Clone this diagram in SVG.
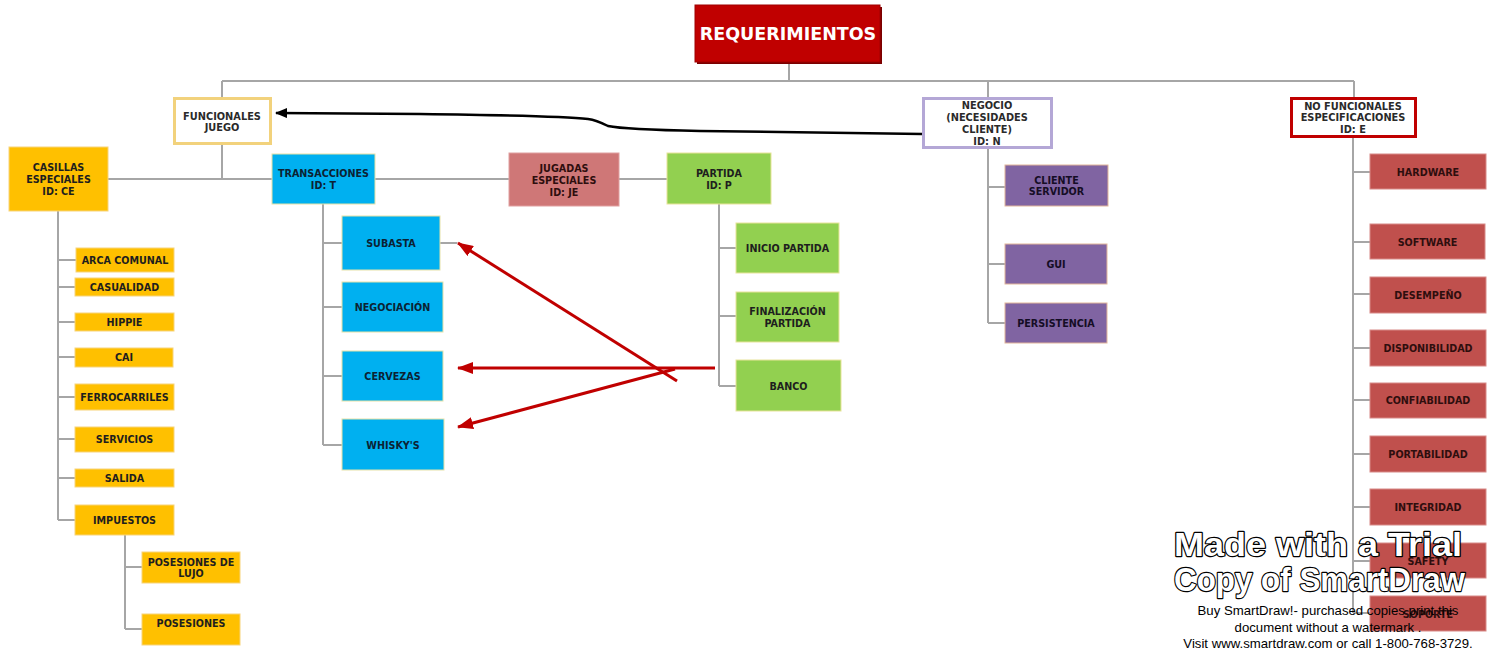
<svg xmlns="http://www.w3.org/2000/svg" width="1490" height="666" viewBox="0 0 1490 666">
<style>
.c{fill:none;stroke:#a6a6a6;stroke-width:2}
.t{font-family:"DejaVu Sans",Verdana,sans-serif;font-size:9.6px;font-weight:bold;text-anchor:middle;fill:#1e1e1e}
.tw{font-family:"DejaVu Sans",Verdana,sans-serif;font-size:9.8px;font-weight:bold;text-anchor:middle;fill:#2a2a2a}
.y{fill:#ffc000;stroke:#f7d47a;stroke-width:1}
.b{fill:#00b0f0;stroke:#e6e2a8;stroke-width:1}
.g{fill:#92d050;stroke:#e8e49a;stroke-width:1}
.p{fill:#8064a2;stroke:#e2b59a;stroke-width:1}
.r{fill:#c0504d;stroke:#d88a88;stroke-width:1}
.tr{fill:#2e0e0e}
.tp{fill:#150d25}
.tb{fill:#0c2233}
.wm{font-family:"Liberation Sans",Arial,sans-serif;font-weight:bold;font-size:34px;fill:#fff;stroke:#000;stroke-width:2.4;paint-order:stroke;stroke-linejoin:round}
.ws{font-family:"Liberation Sans",Arial,sans-serif;font-size:13.2px;fill:#000;text-anchor:middle}
</style>
<defs>
<marker id="ar" markerUnits="userSpaceOnUse" viewBox="0 0 16 12" refX="15" refY="6" markerWidth="16" markerHeight="12" orient="auto"><path d="M0,0 L16,6 L0,12 Z" fill="#c00000"/></marker>
<marker id="ab" markerUnits="userSpaceOnUse" viewBox="0 0 12 10" refX="11" refY="5" markerWidth="12" markerHeight="10" orient="auto"><path d="M0,0 L12,5 L0,10 Z" fill="#000"/></marker>
</defs>
<rect width="1490" height="666" fill="#fff"/>
<g id="connectors">
<path class="c" d="M789,63 V81 M222,81 H1354 M222,81 V97 M988,81 V97 M1354,81 V97"/>
<path class="c" d="M222,145 V179 M108,179 H272 M375,179 H509 M619,179 H667"/>
<path class="c" d="M58,211 V520 M58,260 H76 M58,287 H75 M58,322 H75 M58,357 H75 M58,397 H75 M58,439 H75 M58,478 H75 M58,520 H75"/>
<path class="c" d="M125,535 V629 M125,567 H142 M125,629 H142"/>
<path class="c" d="M323,204 V445 M323,243 H342 M323,307 H342 M323,376 H342 M323,445 H342 M440,243 H457"/>
<path class="c" d="M719,204 V386 M719,248 H736 M719,316 H736 M719,386 H736"/>
<path class="c" d="M988,149 V323 M988,187 H1005 M988,264 H1005 M988,323 H1005"/>
<path class="c" d="M1353,138 V613 M1353,172 H1370 M1353,242 H1370 M1353,294 H1370 M1353,348 H1370 M1353,400 H1370 M1353,454 H1370 M1353,507 H1370 M1353,561 H1370 M1353,613 H1370"/>
<path d="M922,134 L700,131 C650,130 622,129 608,126 C600,122 596,120 588,119 C560,116 500,115 420,114 L276,113" fill="none" stroke="#000" stroke-width="2.5" marker-end="url(#ab)"/>
<g fill="none" stroke="#c00000" stroke-width="3">
<path d="M677,381 L458,243" marker-end="url(#ar)"/>
<path d="M715,368 L458,368" marker-end="url(#ar)"/>
<path d="M675,369 L458,427" marker-end="url(#ar)"/>
</g>
</g>
<g id="requerimientos">
<rect x="697" y="7" width="185" height="57" fill="#7a0000"/>
<rect x="695" y="5" width="185" height="57" fill="#c00000" stroke="#a00000" stroke-width="1"/>
<text x="788" y="40" font-family="DejaVu Sans,Verdana,sans-serif" font-size="17.5" font-weight="bold" fill="#fff" text-anchor="middle">REQUERIMIENTOS</text>
</g>
<g id="funcionales">
<rect x="174.5" y="98.5" width="96" height="45" fill="#fff" stroke="#f2d27c" stroke-width="3"/>
<text class="tw" x="222" y="119.5">FUNCIONALES</text>
<text class="tw" x="222" y="131">JUEGO</text>
</g>
<g id="negocio">
<rect x="923.5" y="98.5" width="128" height="49" fill="#fff" stroke="#b4a7d6" stroke-width="3"/>
<text class="tw" x="987" y="109">NEGOCIO</text>
<text class="tw" x="987" y="121">(NECESIDADES</text>
<text class="tw" x="987" y="133">CLIENTE)</text>
<text class="tw" x="987" y="145">ID: N</text>
</g>
<g id="nofuncionales">
<rect x="1291.5" y="98.5" width="124" height="38" fill="#fff" stroke="#c00000" stroke-width="3"/>
<text class="tw" x="1353" y="109.5" fill="#111">NO FUNCIONALES</text>
<text class="tw" x="1353" y="121">ESPECIFICACIONES</text>
<text class="tw" x="1353" y="132.5">ID: E</text>
</g>
<g id="casillas">
<rect class="y" x="9" y="147" width="99" height="64"/>
<text class="t" x="58.5" y="170.5">CASILLAS</text>
<text class="t" x="58.5" y="182.5">ESPECIALES</text>
<text class="t" x="58.5" y="194.5">ID: CE</text>
</g>
<g id="arca"><rect class="y" x="76" y="248" width="98" height="24"/><text class="t" x="125" y="263.5">ARCA COMUNAL</text></g>
<g id="casualidad"><rect class="y" x="75" y="278" width="99" height="18"/><text class="t" x="124.5" y="290.5">CASUALIDAD</text></g>
<g id="hippie"><rect class="y" x="75" y="313" width="99" height="18"/><text class="t" x="124.5" y="325.5">HIPPIE</text></g>
<g id="cai"><rect class="y" x="75" y="348" width="98" height="19"/><text class="t" x="124" y="361">CAI</text></g>
<g id="ferrocarriles"><rect class="y" x="75" y="384" width="99" height="26"/><text class="t" x="124.5" y="400.5">FERROCARRILES</text></g>
<g id="servicios"><rect class="y" x="75" y="427" width="99" height="25"/><text class="t" x="124.5" y="443">SERVICIOS</text></g>
<g id="salida"><rect class="y" x="75" y="469" width="99" height="18"/><text class="t" x="124.5" y="481.5">SALIDA</text></g>
<g id="impuestos"><rect class="y" x="75" y="505" width="99" height="30"/><text class="t" x="124.5" y="523.5">IMPUESTOS</text></g>
<g id="posesioneslujo"><rect class="y" x="142" y="552" width="98" height="31"/><text class="t" x="191" y="565.5">POSESIONES DE</text><text class="t" x="191" y="577">LUJO</text></g>
<g id="posesiones"><rect class="y" x="142" y="614" width="98" height="31"/><text class="t" x="191" y="627">POSESIONES</text></g>
<g id="transacciones">
<rect class="b" x="272" y="154" width="103" height="50"/>
<text class="t tb" x="323.5" y="176.5">TRANSACCIONES</text>
<text class="t tb" x="323.5" y="188.5">ID: T</text>
</g>
<g id="subasta"><rect class="b" x="342" y="216" width="98" height="54"/><text class="t tb" x="391" y="246.5">SUBASTA</text></g>
<g id="negociacion"><rect class="b" x="342" y="282" width="101" height="50"/><text class="t tb" x="392.5" y="310.5">NEGOCIACIÓN</text></g>
<g id="cervezas"><rect class="b" x="342" y="351" width="101" height="50"/><text class="t tb" x="392.5" y="379.5">CERVEZAS</text></g>
<g id="whiskys"><rect class="b" x="342" y="419" width="102" height="51"/><text class="t tb" x="393" y="448.5">WHISKY'S</text></g>
<g id="jugadas">
<rect x="509" y="153" width="110" height="53" fill="#cf7777" stroke="#e0a0a0" stroke-width="1"/>
<text class="t tr" x="564" y="171.5">JUGADAS</text>
<text class="t tr" x="564" y="183.5">ESPECIALES</text>
<text class="t tr" x="564" y="195.5">ID: JE</text>
</g>
<g id="partida">
<rect class="g" x="667" y="153" width="104" height="51"/>
<text class="t" x="719" y="176.5">PARTIDA</text>
<text class="t" x="719" y="188.5">ID: P</text>
</g>
<g id="inicio"><rect class="g" x="736" y="223" width="103" height="50"/><text class="t" x="787.5" y="251.5">INICIO PARTIDA</text></g>
<g id="finalizacion"><rect class="g" x="736" y="292" width="103" height="50"/><text class="t" x="787.5" y="314.5">FINALIZACIÓN</text><text class="t" x="787.5" y="326.5">PARTIDA</text></g>
<g id="banco"><rect class="g" x="736" y="360" width="105" height="51"/><text class="t" x="788.5" y="389.5">BANCO</text></g>
<g id="cliente"><rect class="p" x="1005" y="165" width="103" height="41"/><text class="t tp" x="1056.5" y="183.5">CLIENTE</text><text class="t tp" x="1056.5" y="195">SERVIDOR</text></g>
<g id="gui"><rect class="p" x="1005" y="244" width="102" height="40"/><text class="t tp" x="1056" y="267.5">GUI</text></g>
<g id="persistencia"><rect class="p" x="1005" y="303" width="102" height="40"/><text class="t tp" x="1056" y="326.5">PERSISTENCIA</text></g>
<g id="hardware"><rect class="r" x="1370" y="154" width="116" height="35"/><text class="t tr" x="1428" y="175.5">HARDWARE</text></g>
<g id="software"><rect class="r" x="1370" y="224" width="115" height="35"/><text class="t tr" x="1427.5" y="245.5">SOFTWARE</text></g>
<g id="desempeno"><rect class="r" x="1370" y="277" width="116" height="36"/><text class="t tr" x="1428" y="298.5">DESEMPEÑO</text></g>
<g id="disponibilidad"><rect class="r" x="1370" y="330" width="116" height="36"/><text class="t tr" x="1428" y="351.5">DISPONIBILIDAD</text></g>
<g id="confiabilidad"><rect class="r" x="1370" y="383" width="116" height="35"/><text class="t tr" x="1428" y="403.5">CONFIABILIDAD</text></g>
<g id="portabilidad"><rect class="r" x="1370" y="436" width="116" height="36"/><text class="t tr" x="1428" y="457.5">PORTABILIDAD</text></g>
<g id="integridad"><rect class="r" x="1370" y="489" width="116" height="36"/><text class="t tr" x="1428" y="510.5">INTEGRIDAD</text></g>
<g id="safety"><rect class="r" x="1370" y="543" width="116" height="35"/><text class="t tr" x="1428" y="564.5">SAFETY</text></g>
<g id="soporte"><rect class="r" x="1370" y="596" width="116" height="35"/><text class="t tr" x="1428" y="617.5">SOPORTE</text></g>
<g id="watermark">
<text class="wm" x="1174" y="556" textLength="288" lengthAdjust="spacingAndGlyphs">Made with a Trial</text>
<text class="wm" x="1174" y="591" textLength="291" lengthAdjust="spacingAndGlyphs">Copy of SmartDraw</text>
<text class="ws" x="1328" y="615">Buy SmartDraw!- purchased copies print this</text>
<text class="ws" x="1328" y="632">document without a watermark .</text>
<text class="ws" x="1328" y="648">Visit www.smartdraw.com or call 1-800-768-3729.</text>
</g>
</svg>
